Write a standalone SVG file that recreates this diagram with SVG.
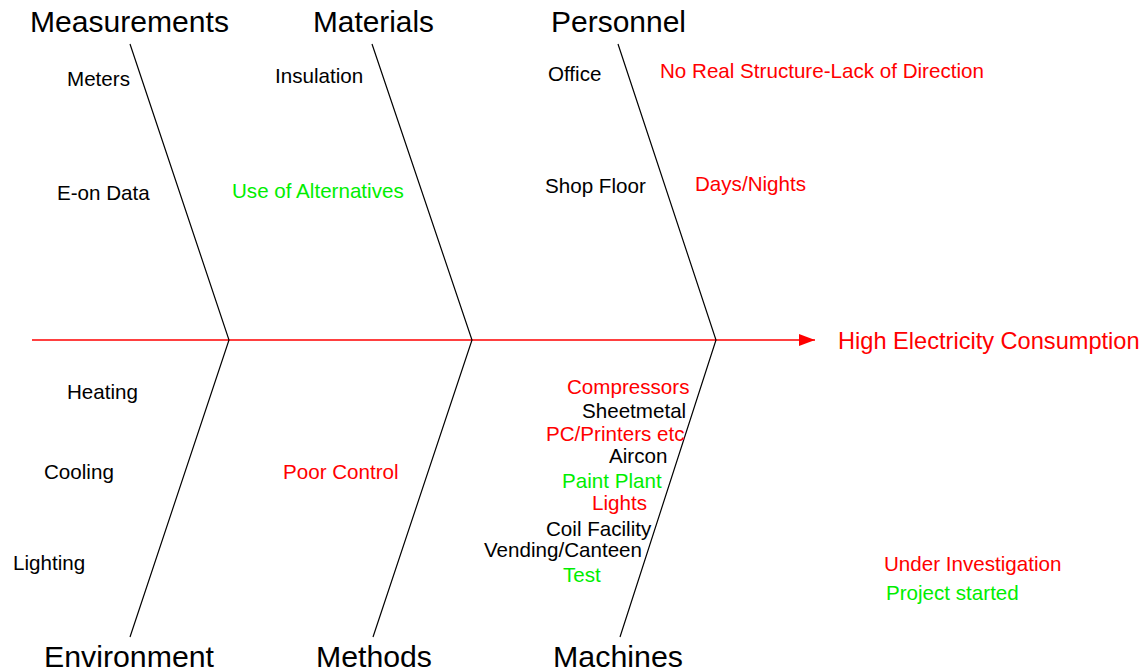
<svg xmlns="http://www.w3.org/2000/svg" width="1142" height="671" viewBox="0 0 1142 671">
<style>
text{font-family:"Liberation Sans",Arial,sans-serif;font-size:20.6px;fill:#000}
.h{font-size:29px}
.e{font-size:23.6px}
.r{fill:#ff0000}
.g{fill:#00ee00}
.bone{stroke:#000;stroke-width:1.2;fill:none}
.spine{stroke:#ff0000;stroke-width:1.5;fill:none}
</style>
<defs>
<marker id="ah" markerWidth="16" markerHeight="12" refX="16" refY="6" orient="auto" markerUnits="userSpaceOnUse">
<path d="M0,0 L16,6 L0,12 Z" fill="#ff0000"/>
</marker>
</defs>
<rect width="1142" height="671" fill="#fff"/>
<g id="connectors">
<line class="spine" x1="32" y1="340" x2="815" y2="340" marker-end="url(#ah)"/>
<polyline class="bone" points="130,44 229,340 130,637"/>
<polyline class="bone" points="372,44 472,340 373,637"/>
<polyline class="bone" points="618,44 716,340 620,637"/>
</g>
<g id="effect"><text class="r e" x="838" y="349">High Electricity Consumption</text></g>
<g id="measurements">
<text class="h" x="30" y="32" textLength="199" lengthAdjust="spacingAndGlyphs">Measurements</text>
<text x="67" y="86">Meters</text>
<text x="57" y="200">E-on Data</text>
</g>
<g id="materials">
<text class="h" x="313" y="32" textLength="121" lengthAdjust="spacingAndGlyphs">Materials</text>
<text x="275" y="83">Insulation</text>
<text class="g" x="232" y="198">Use of Alternatives</text>
</g>
<g id="personnel">
<text class="h" x="551" y="32" textLength="135" lengthAdjust="spacingAndGlyphs">Personnel</text>
<text x="548" y="81">Office</text>
<text class="r" x="660" y="78">No Real Structure-Lack of Direction</text>
<text x="545" y="193">Shop Floor</text>
<text class="r" x="695" y="191">Days/Nights</text>
</g>
<g id="environment">
<text class="h" x="44" y="667" textLength="170" lengthAdjust="spacingAndGlyphs">Environment</text>
<text x="67" y="399">Heating</text>
<text x="44" y="479">Cooling</text>
<text x="13" y="570">Lighting</text>
</g>
<g id="methods">
<text class="h" x="316" y="667" textLength="116" lengthAdjust="spacingAndGlyphs">Methods</text>
<text class="r" x="283" y="479">Poor Control</text>
</g>
<g id="machines">
<text class="h" x="553" y="667" textLength="130" lengthAdjust="spacingAndGlyphs">Machines</text>
<text class="r" x="567" y="394">Compressors</text>
<text x="582" y="418">Sheetmetal</text>
<text class="r" x="546" y="441">PC/Printers etc</text>
<text x="609" y="463">Aircon</text>
<text class="g" x="562" y="488">Paint Plant</text>
<text class="r" x="592" y="510">Lights</text>
<text x="546" y="536">Coil Facility</text>
<text x="484" y="557">Vending/Canteen</text>
<text class="g" x="563" y="582">Test</text>
</g>
<g id="legend">
<text class="r" x="884" y="571">Under Investigation</text>
<text class="g" x="886" y="600">Project started</text>
</g>
</svg>
